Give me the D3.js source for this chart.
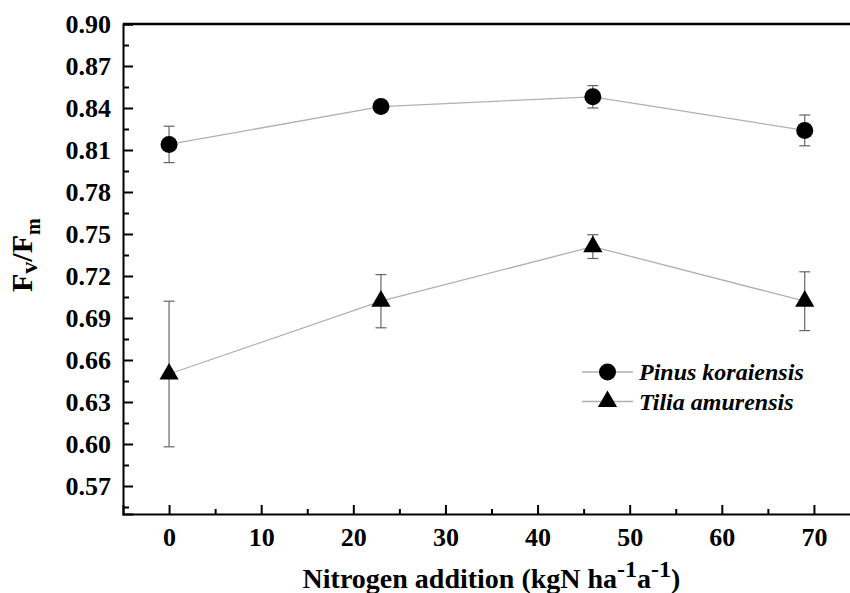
<!DOCTYPE html>
<html>
<head>
<meta charset="utf-8">
<script src="https://cdn.jsdelivr.net/npm/d3@7"></script>
<style>
    body { margin: 0; background: #fff; }
    svg { display: block; font-family: "Liberation Serif", "Times New Roman", serif; }
    .axis path, .axis line { stroke: #000; }
    .axis path { stroke-width: 2; }
    .axis line { stroke-width: 2; }
    .axis text { font-family: "Liberation Serif", "Times New Roman", serif; font-size: 26px; font-weight: bold; fill: #000; }
</style>
</head>
<body>
<div id="chart"></div>
<script>
// data
const nitrogen = [0, 23, 46, 69];
const pinusMean = [0.814, 0.841, 0.848, 0.824];
const pinusErr = [0.013, 0.002, 0.008, 0.011];
const tiliaMean = [0.650, 0.702, 0.741, 0.702];
const tiliaErr = [0.052, 0.019, 0.0085, 0.021];

const yTicks = [0.57, 0.60, 0.63, 0.66, 0.69, 0.72, 0.75, 0.78, 0.81, 0.84, 0.87, 0.90];
const yMinor = [0.555, 0.585, 0.615, 0.645, 0.675, 0.705, 0.735, 0.765, 0.795, 0.825, 0.855, 0.885];
const xTicks = [0, 10, 20, 30, 40, 50, 60, 70];
const xMinor = [5, 15, 25, 35, 45, 55, 65];

const seriesNames = ['Pinus koraiensis', 'Tilia amurensis'];

const width = 850;
const height = 593;
const margin = { top: 24, right: -10, bottom: 79, left: 123 };
const serif = '"Liberation Serif", "Times New Roman", serif';

const svg = d3.select('#chart')
    .append('svg')
    .attr('width', width)
    .attr('height', height);

// scales
const x = d3.scaleLinear().domain([-5, 75]).range([margin.left, width - margin.right]);
const y = d3.scaleLinear().domain([0.55, 0.90]).range([height - margin.bottom, margin.top]);

// axes, ticks pointing inward
const gx = svg.append('g')
    .attr('class', 'axis x-axis')
    .attr('transform', `translate(0, ${y(0.55)})`)
    .call(d3.axisBottom(x).tickValues(xTicks).tickSize(-9).tickPadding(14).tickFormat(d3.format('d')))
    .attr('font-family', serif);

svg.append('g')
    .attr('class', 'axis')
    .attr('transform', `translate(0, ${y(0.55)})`)
    .call(d3.axisBottom(x).tickValues(xMinor).tickSize(-5).tickFormat(''))
    .select('.domain').remove();

const gy = svg.append('g')
    .attr('class', 'axis y-axis')
    .attr('transform', `translate(${x(-5)}, 0)`)
    .call(d3.axisLeft(y).tickValues(yTicks).tickSize(-10).tickPadding(12).tickFormat(d3.format('.2f')))
    .attr('font-family', serif);

svg.append('g')
    .attr('class', 'axis')
    .attr('transform', `translate(${x(-5)}, 0)`)
    .call(d3.axisLeft(y).tickValues(yMinor).tickSize(-6).tickFormat(''))
    .select('.domain').remove();

// top frame line
svg.append('line')
    .attr('x1', x(-5)).attr('x2', x(75))
    .attr('y1', y(0.90)).attr('y2', y(0.90))
    .attr('stroke', '#000').attr('stroke-width', 2.5);

// build series
const series = [
    { name: seriesNames[0], symbol: d3.symbolCircle, size: 227,
      values: nitrogen.map((n, i) => ({ n: n, v: pinusMean[i], e: pinusErr[i] })) },
    { name: seriesNames[1], symbol: d3.symbolTriangle, size: 160,
      values: nitrogen.map((n, i) => ({ n: n, v: tiliaMean[i], e: tiliaErr[i] })) }
];

const line = d3.line().x(d => x(d.n)).y(d => y(d.v));
const capW = 5.5;

series.forEach(s => {
    let g = svg.append('g');

    g.append('path')
        .datum(s.values)
        .attr('d', line)
        .attr('fill', 'none')
        .attr('stroke', '#b0b0b0')
        .attr('stroke-width', 1.3);

    // error bars
    let eb = g.selectAll('.err')
        .data(s.values)
        .enter()
        .append('g')
        .attr('class', 'err')
        .attr('stroke', '#666')
        .attr('stroke-width', 1.2);

    eb.append('line')
        .attr('x1', d => x(d.n)).attr('x2', d => x(d.n))
        .attr('y1', d => y(d.v - d.e)).attr('y2', d => y(d.v + d.e));
    eb.append('line')
        .attr('x1', d => x(d.n) - capW).attr('x2', d => x(d.n) + capW)
        .attr('y1', d => y(d.v + d.e)).attr('y2', d => y(d.v + d.e));
    eb.append('line')
        .attr('x1', d => x(d.n) - capW).attr('x2', d => x(d.n) + capW)
        .attr('y1', d => y(d.v - d.e)).attr('y2', d => y(d.v - d.e));

    g.selectAll('.pt')
        .data(s.values)
        .enter()
        .append('path')
        .attr('class', 'pt')
        .attr('d', d3.symbol(s.symbol, s.size))
        .attr('transform', d => `translate(${x(d.n)}, ${y(d.v)})`)
        .attr('fill', '#000');
});

// legend
const legend = svg.append('g').attr('transform', 'translate(582, 372)');
series.forEach((s, i) => {
    let row = legend.append('g').attr('transform', `translate(0, ${i * 29.5})`);
    row.append('line')
        .attr('x1', 0).attr('x2', 51)
        .attr('stroke', '#b0b0b0').attr('stroke-width', 1.3);
    row.append('path')
        .attr('d', d3.symbol(s.symbol, s.size))
        .attr('transform', 'translate(25.5, 0)')
        .attr('fill', '#000');
    row.append('text')
        .attr('x', 57)
        .attr('y', 8)
        .attr('font-size', 24)
        .attr('font-weight', 'bold')
        .attr('font-style', 'italic')
        .text(s.name);
});

// x title
const xt = svg.append('text')
    .attr('x', (x(-5) + x(75)) / 2)
    .attr('y', 588)
    .attr('text-anchor', 'middle')
    .attr('font-size', 28)
    .attr('font-weight', 'bold');
xt.append('tspan').text('Nitrogen addition (kgN ha');
xt.append('tspan').attr('dy', -11).attr('font-size', 24).text('-1');
xt.append('tspan').attr('dy', 11).text('a');
xt.append('tspan').attr('dy', -11).attr('font-size', 24).text('-1');
xt.append('tspan').attr('dy', 11).text(')');

// y title
const yt = svg.append('text')
    .attr('transform', 'translate(32, 292) rotate(-90)')
    .attr('font-size', 30)
    .attr('font-weight', 'bold');
yt.append('tspan').text('F');
yt.append('tspan').attr('dy', 5).attr('font-size', 24).text('v');
yt.append('tspan').attr('dy', -5).text('/F');
yt.append('tspan').attr('dy', 8).attr('font-size', 20).text('m');
</script>
</body>
</html>
